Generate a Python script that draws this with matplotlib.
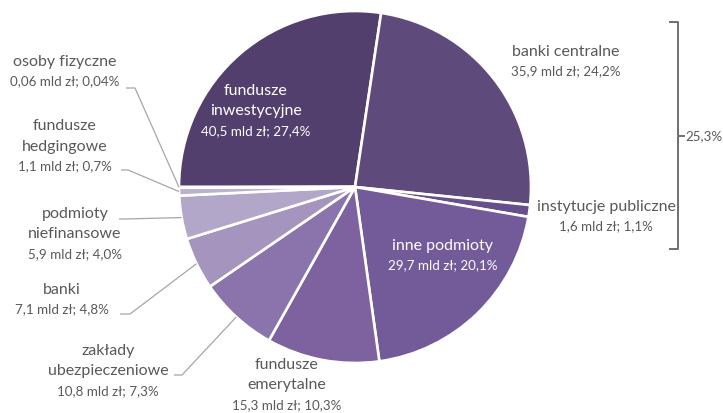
import numpy as np
import matplotlib
matplotlib.use("Agg")
import matplotlib.pyplot as plt

plt.rcParams['font.family'] = ['Lato', 'DejaVu Sans']

# data (mld zł and share in %)
names = ['fundusze\ninwestycyjne', 'banki centralne', 'instytucje publiczne',
         'inne podmioty', 'fundusze\nemerytalne', 'zakłady\nubezpieczeniowe',
         'banki', 'podmioty\nniefinansowe', 'fundusze\nhedgingowe', 'osoby fizyczne']
values = [40.5, 35.9, 1.6, 29.7, 15.3, 10.8, 7.1, 5.9, 1.1, 0.06]
shares = [27.4, 24.2, 1.1, 20.1, 10.3, 7.3, 4.8, 4.0, 0.7, 0.04]
colors = ['#533f6d', '#5f4a7c', '#684f8c', '#735a99', '#7e62a0', '#8b73ab',
          '#a494be', '#b2a6c9', '#bcb1d2', '#c8bfdb']

W, H = 723, 414
fig = plt.figure(figsize=(W / 100, H / 100), dpi=100)
ax = fig.add_axes([0, 0, 1, 1])

cx, cy, R = 355, H - 188, 176
wedges, _ = ax.pie(values, startangle=180, counterclock=False, colors=colors,
                   center=(cx, cy), radius=R, frame=True,
                   wedgeprops=dict(edgecolor='white', linewidth=1.9))
ax.set_xlim(0, W)
ax.set_ylim(0, H)
ax.axis('off')


def fmt(v, p):
    d = 2 if v < 0.1 else 1
    return f"{v:.{d}f} mld zł; {p:.{d}f}%".replace('.', ',')


gray = '#595959'
line_c = '#a6a6a6'

# label layout: (x center, y of top line in image px, text color)
layout = [
    (256, 91, 'white'),
    (566, 52, gray),
    (606, 207, gray),
    (443, 246, 'white'),
    (287, 365, gray),
    (108, 351, gray),
    (62, 290, gray),
    (75, 214, gray),
    (65, 126, gray),
    (65, 62, gray),
]
for name, v, p, (x, y, c) in zip(names, values, shares, layout):
    lines = name.split('\n')
    for i, ln in enumerate(lines):
        ax.text(x, H - (y + 20.5 * i), ln, ha='center', va='center',
                fontsize=11.5, color=c)
    ax.text(x, H - (y + 20.5 * len(lines) - 1), fmt(v, p), ha='center',
            va='center', fontsize=9.6, color=c)

# leader lines: label end -> elbow -> wedge edge at mid angle
leaders = {
    9: (126, 135, 89),
    8: (121, 128, 171),
    7: (119, 125, 220),
    6: (120, 130, 315),
    5: (174, 182, 376),
}
for idx, (x0, x1, y) in leaders.items():
    w = wedges[idx]
    mid = np.deg2rad((w.theta1 + w.theta2) / 2)
    ex, ey = cx + R * np.cos(mid), cy + R * np.sin(mid)
    ax.plot([x0, x1, ex], [H - y, H - y, ey], color=line_c, lw=0.9,
            solid_capstyle='butt')

# bracket for banki centralne + instytucje publiczne
bx, top, bot = 678, 23, 250
mid_y = (top + bot) / 2
ax.plot([670, bx, bx, 670], [H - top, H - top, H - bot, H - bot],
        color='#6f6f6f', lw=1.4)
ax.plot([bx, 684], [H - mid_y, H - mid_y], color='#6f6f6f', lw=1.4)
ax.text(685, H - mid_y, f"{shares[1] + shares[2]:.1f}%".replace('.', ','),
        ha='left', va='center', fontsize=9.6, color=gray)

fig.savefig('out.png', dpi=100)
